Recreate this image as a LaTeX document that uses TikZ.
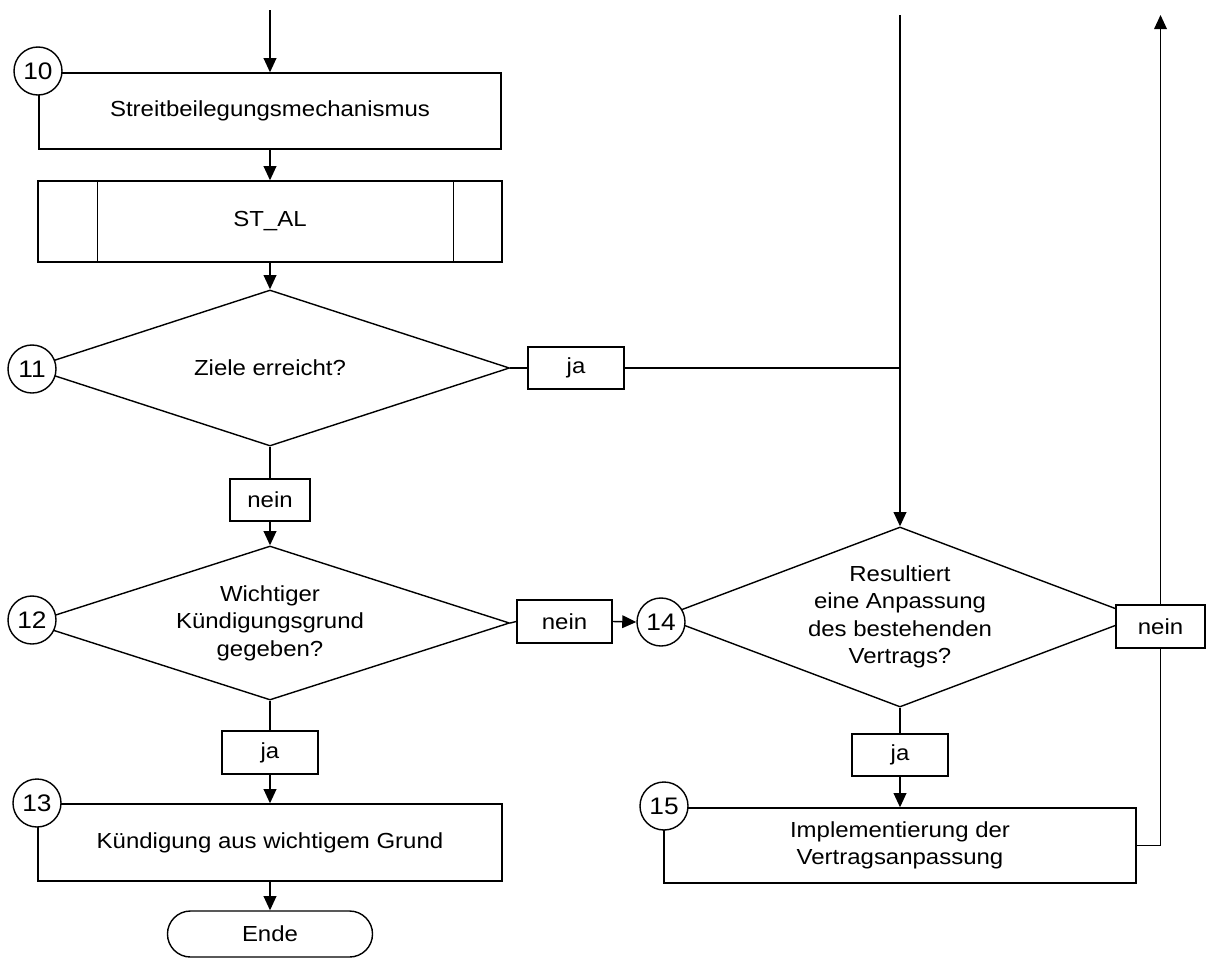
\documentclass[tikz,border=0pt]{standalone}
\usepackage{fontspec}
\setmainfont{Liberation Sans}[FakeStretch=1.1]
\usetikzlibrary{shapes.geometric,arrows.meta}
\begin{document}
\begin{tikzpicture}[x=0.025cm,y=-0.025cm,
  every node/.style={font=\fontsize{15.5pt}{19.5pt}\selectfont, inner sep=0pt, line width=1pt},
  box/.style={draw, rectangle, fill=white, align=center},
  lbl/.style={draw, rectangle, fill=white},
  dec/.style={draw, diamond, fill=white, align=center},
  num/.style={draw, circle, fill=white, minimum size=1.2cm, font=\fontsize{17pt}{20pt}\selectfont},
  term/.style={draw, rectangle, rounded corners=0.575cm, fill=white},
  conn/.style={line width=1pt},
  arr/.style={line width=1pt, -{Triangle[length=10pt,width=9pt]}}]
\useasboundingbox (0,0) rectangle (1208,960);

% main nodes
\node[box, minimum width=11.55cm, minimum height=1.9cm] (b10) at (270,111) {Streitbeilegungsmechanismus};
\node[box, minimum width=11.6cm, minimum height=2.025cm] (st) at (270,221.5) {ST\_AL};
\draw[conn] ([xshift=1.5cm]st.north west) -- ([xshift=1.5cm]st.south west);
\draw[conn] ([xshift=-1.225cm]st.north east) -- ([xshift=-1.225cm]st.south east);
\node[dec, aspect=3.07, minimum width=11.975cm, minimum height=3.9cm] (d11) at (270,368) {Ziele erreicht?};
\node[lbl, minimum width=2.4cm, minimum height=1.05cm] (ja1) at (576,368) {ja};
\node[lbl, minimum width=2.0cm, minimum height=1.05cm] (nein1) at (270,500) {nein};
\node[dec, aspect=3.11, minimum width=11.975cm, minimum height=3.85cm] (d12) at (270,623) {Wichtiger\\Kündigungsgrund\\gegeben?};
\node[lbl, minimum width=2.375cm, minimum height=1.075cm] (nein2) at (564.5,621.5) {nein};
\node[dec, aspect=2.64, minimum width=11.9cm, minimum height=4.5cm] (d14) at (900,617) {Resultiert\\eine Anpassung\\des bestehenden\\Vertrags?};
\node[lbl, minimum width=2.225cm, minimum height=1.075cm] (nein3) at (1160.5,626.5) {nein};
\node[lbl, minimum width=2.4cm, minimum height=1.05cm] (ja3) at (900,755) {ja};
\node[box, minimum width=11.8cm, minimum height=1.875cm] (b15) at (900,845.5) {Implementierung der\\Vertragsanpassung};
\node[lbl, minimum width=2.4cm, minimum height=1.075cm] (ja2) at (270,752.5) {ja};
\node[box, minimum width=11.6cm, minimum height=1.925cm] (b13) at (270,842.5) {Kündigung aus wichtigem Grund};
\node[term, minimum width=5.125cm, minimum height=1.15cm] (ende) at (270,934) {Ende};

% number circles
\node[num] (c10) at (38,71) {10};
\node[num] (c11) at (32,369) {11};
\node[num] (c12) at (32,620) {12};
\node[num] (c13) at (37,803) {13};
\node[num] (c14) at (661,622) {14};
\node[num] (c15) at (664,806) {15};

% free ends
\coordinate (top1) at (270,10);
\coordinate (top2) at (900,15);
\coordinate (top3) at (1160.5,15);

% connectors
\draw[arr] (top1) -- (b10.north);
\draw[arr] (b10.south) -- (st.north);
\draw[arr] (st.south) -- (d11.north);
\draw[conn] (d11.east) -- (ja1.west);
\draw[conn] (ja1.east) -- (d14.north |- ja1.east);
\draw[arr] (top2) -- (d14.north);
\draw[conn] (d11.south) -- (nein1.north);
\draw[arr] (nein1.south) -- (d12.north);
\draw[conn] (d12.east) -- (nein2.west);
\draw[arr] (nein2.east) -- (c14.west);
\draw[arr] (nein3.north) -- (top3);
\draw[conn] (nein3.south) |- (b15.east);
\draw[conn] (d14.south) -- (ja3.north);
\draw[arr] (ja3.south) -- (b15.north);
\draw[conn] (d12.south) -- (ja2.north);
\draw[arr] (ja2.south) -- (b13.north);
\draw[arr] (b13.south) -- (ende.north);
\end{tikzpicture}
\end{document}
